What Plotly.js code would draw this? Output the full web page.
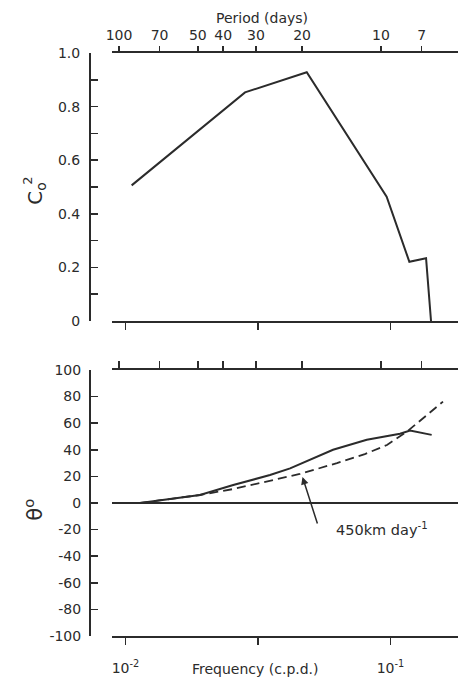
<!DOCTYPE html>
<html>
<head>
<meta charset="utf-8">
<script src="https://cdn.plot.ly/plotly-3.0.1.min.js"></script>
<style>html,body{margin:0;padding:0;background:#fff;}#chart{width:464px;height:677px;}</style>
</head>
<body>
<div id="chart"></div>
<script>
// Coherence (top panel)
var freqCoh = [0.01055, 0.02825, 0.0483, 0.0967, 0.1178, 0.1362, 0.1422];
var coh = [0.506, 0.853, 0.928, 0.464, 0.221, 0.234, 0];
// Phase (bottom panel), observed
var freqPhase = [0.01135, 0.0191, 0.0255, 0.0351, 0.0418, 0.0607, 0.0814, 0.1086, 0.1185, 0.143];
var phase = [0, 6, 13.5, 21, 26, 40, 47.5, 52, 54.4, 51.2];
// Phase for 450 km/day propagation (dashed)
var freqModel = [0.01135, 0.0191, 0.0255, 0.0383, 0.0455, 0.0628, 0.0800, 0.097, 0.1153, 0.1578];
var phaseModel = [0, 6, 10.5, 18.5, 21.8, 30, 36.8, 43.6, 53.6, 76.2];
// Tick labels
var periods = [100, 70, 50, 40, 30, 20, 10, 7];
var freqTicks = [0.01, 0.1];
var freqTickText = ['10<sup>-2</sup>', '10<sup>-1</sup>'];
var freqMinorTicks = [0.0316228];
var cohTicks = [0, 0.2, 0.4, 0.6, 0.8, 1.0];
var cohTickText = ['0', '0.2', '0.4', '0.6', '0.8', '1.0'];
var cohMinorTicks = [0.1, 0.3, 0.5, 0.7, 0.9];
var phaseTicks = [-100, -80, -60, -40, -20, 0, 20, 40, 60, 80, 100];
var phaseTickText = ['-100', '-80', '-60', '-40', '-20', '0', '20', '40', '60', '80', '100'];

var INK = '#2b2b2b';
var FONT = 'DejaVu Sans';

var traces = [
  {x: freqCoh, y: coh, xaxis: 'x', yaxis: 'y', mode: 'lines', cliponaxis: false,
   line: {color: INK, width: 2}, hoverinfo: 'skip'},
  {x: freqModel, y: phaseModel, xaxis: 'x2', yaxis: 'y2', mode: 'lines',
   line: {color: INK, width: 1.8, dash: '9px,5px'}, hoverinfo: 'skip'},
  {x: freqPhase, y: phase, xaxis: 'x2', yaxis: 'y2', mode: 'lines',
   line: {color: INK, width: 2}, hoverinfo: 'skip'},
  {x: periods.map(function(p){return 1/p;}), y: periods.map(function(){return null;}), xaxis: 'x3', yaxis: 'y',
   mode: 'lines', hoverinfo: 'skip', showlegend: false},
  {x: periods.map(function(p){return 1/p;}), y: periods.map(function(){return null;}), xaxis: 'x4', yaxis: 'y2',
   mode: 'lines', hoverinfo: 'skip', showlegend: false}
];

var xdom = [0.0623, 1];
var freqRange = [-2.0509, -0.7453];
var periodRange = [-2.0267, -0.7061];

function freqAxis(anchor, labels) {
  return {
    type: 'log', domain: xdom, range: freqRange, anchor: anchor,
    showline: true, linecolor: INK, linewidth: 1.8, mirror: false,
    ticks: 'outside', ticklen: 7, tickwidth: 1.5, tickcolor: INK,
    tickmode: 'array', tickvals: freqTicks, ticktext: freqTickText,
    minor: {tickmode: 'array', tickvals: freqMinorTicks, ticks: 'outside', ticklen: 7, tickwidth: 1.5, tickcolor: INK, showgrid: false},
    showticklabels: labels, ticklabelstandoff: 11,
    tickfont: {family: FONT, size: 14, color: INK},
    showgrid: false, zeroline: false, fixedrange: true
  };
}
function periodAxis(over, anchor, labels, len) {
  return {
    type: 'log', overlaying: over, side: 'top', anchor: anchor, range: periodRange,
    showline: true, linecolor: INK, linewidth: 1.8,
    ticks: 'outside', ticklen: len, tickwidth: 1.5, tickcolor: INK,
    tickmode: 'array', tickvals: periods.map(function(p){return 1/p;}), ticktext: periods.map(String),
    showticklabels: labels, ticklabelstandoff: 1,
    tickfont: {family: FONT, size: 14, color: INK},
    showgrid: false, zeroline: false, fixedrange: true
  };
}

var layout = {
  width: 464, height: 677,
  margin: {l: 89, r: 6, t: 53, b: 41},
  paper_bgcolor: '#fff', plot_bgcolor: 'rgba(0,0,0,0)',
  showlegend: false,
  font: {family: FONT, size: 14, color: INK},
  xaxis: freqAxis('y', false),
  xaxis2: freqAxis('y2', true),
  xaxis3: periodAxis('x', 'y', true, 5),
  xaxis4: periodAxis('x2', 'y2', false, 7),
  yaxis: {
    domain: [0.5403, 1], range: [0, 1], anchor: 'free', position: 0,
    showline: true, linecolor: INK, linewidth: 1.8,
    ticks: 'inside', ticklen: 7, tickwidth: 1.5, tickcolor: INK,
    tickmode: 'array', tickvals: cohTicks, ticktext: cohTickText,
    minor: {tickmode: 'array', tickvals: cohMinorTicks, ticks: 'inside', ticklen: 7, tickwidth: 1.5, tickcolor: INK, showgrid: false},
    ticklabelstandoff: 6, tickfont: {family: FONT, size: 14, color: INK},
    showgrid: false, zeroline: false, fixedrange: true
  },
  yaxis2: {
    domain: [0, 0.4563], range: [-100, 100], anchor: 'free', position: 0,
    showline: true, linecolor: INK, linewidth: 1.8,
    ticks: 'inside', ticklen: 7, tickwidth: 1.5, tickcolor: INK,
    tickmode: 'array', tickvals: phaseTicks, ticktext: phaseTickText,
    ticklabelstandoff: 5, tickfont: {family: FONT, size: 14, color: INK},
    showgrid: false, zeroline: true, zerolinecolor: INK, zerolinewidth: 1.5, fixedrange: true
  },
  annotations: [
    {xref: 'paper', yref: 'paper', x: 0.469, y: 1.0592, text: 'Period (days)', showarrow: false,
     xanchor: 'center', yanchor: 'middle', font: {family: FONT, size: 14, color: INK}},
    {xref: 'paper', yref: 'paper', x: 0.45, y: -0.056, text: 'Frequency (c.p.d.)', showarrow: false,
     xanchor: 'center', yanchor: 'middle', font: {family: FONT, size: 14, color: INK}},
    {xref: 'paper', yref: 'paper', x: -0.144, y: 0.76, text: 'C<sub>o</sub>', textangle: -90, showarrow: false,
     xanchor: 'center', yanchor: 'middle', font: {family: FONT, size: 20, color: INK}},
    {xref: 'paper', yref: 'paper', x: -0.165, y: 0.781, text: '2', textangle: -90, showarrow: false,
     xanchor: 'center', yanchor: 'middle', font: {family: FONT, size: 13, color: INK}},
    {xref: 'paper', yref: 'paper', x: -0.150, y: 0.216, text: 'θ<sup>o</sup>', textangle: -90, showarrow: false,
     xanchor: 'center', yanchor: 'middle', font: {family: FONT, size: 21, color: INK}},
    {xref: 'x2', yref: 'y2', x: Math.log10(0.0463), y: 21, text: '', showarrow: true,
     ax: 16, ay: 50, arrowhead: 2, arrowsize: 1, arrowwidth: 1.5, arrowcolor: INK, standoff: 2},
    {xref: 'paper', yref: 'paper', x: 0.794, y: 0.183, text: '450km day<sup>-1</sup>', showarrow: false,
     xanchor: 'center', yanchor: 'middle', font: {family: FONT, size: 14.5, color: INK}}
  ]
};

Plotly.newPlot('chart', traces, layout, {displayModeBar: false, staticPlot: true});
</script>
</body>
</html>
